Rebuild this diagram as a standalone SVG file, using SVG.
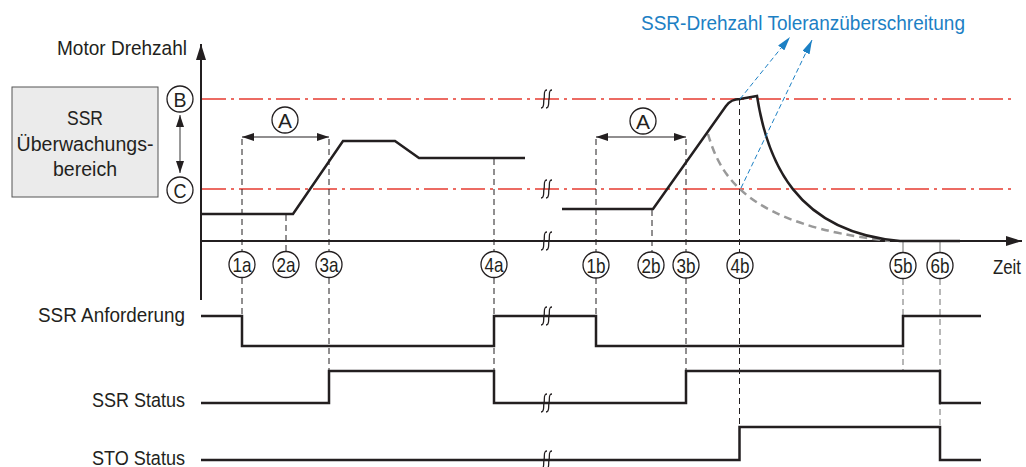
<svg xmlns="http://www.w3.org/2000/svg" width="1026" height="467" viewBox="0 0 1026 467">
<style>
text{font-family:"Liberation Sans",Arial,sans-serif;fill:#231f20}
.lbl{font-size:20.5px}
.ctr{text-anchor:middle}
.end{text-anchor:end}
.blue{fill:#1c80c4}
.cl{font-size:21px;text-anchor:middle}
.circ{fill:#fff;stroke:#231f20;stroke-width:1.3}
.sig{fill:none;stroke:#231f20;stroke-width:2.5}
.axis{fill:none;stroke:#231f20;stroke-width:2}
.red{fill:none;stroke:#e63b30;stroke-width:1.3;stroke-dasharray:24 5 3 5}
.dv{fill:none;stroke:#231f20;stroke-width:1;stroke-dasharray:6 4}
.dg{fill:none;stroke:#888;stroke-width:1.2;stroke-dasharray:6 4}
.brk{fill:none;stroke:#231f20;stroke-width:1.3}
.bl{fill:none;stroke:#1c80c4;stroke-width:1;stroke-dasharray:5 3}
</style>
<defs>
<marker id="ah" viewBox="0 0 12 8" refX="12" refY="4" markerWidth="12" markerHeight="8" markerUnits="userSpaceOnUse" orient="auto-start-reverse"><path d="M0,0 L12,4 L0,8 z" fill="#231f20"/></marker>
<marker id="bh" viewBox="0 0 14 8" refX="14" refY="4" markerWidth="14" markerHeight="8" markerUnits="userSpaceOnUse" orient="auto"><path d="M0,0 L14,4 L0,8 z" fill="#1c80c4"/></marker>
<marker id="axh" viewBox="0 0 16 10" refX="16" refY="5" markerWidth="16" markerHeight="10" markerUnits="userSpaceOnUse" orient="auto"><path d="M0,0 L16,5 L0,10 z" fill="#231f20"/></marker>
<g id="brkmark"><path d="M1,-9 C-3,-9 -1,-3 -2,0 C-3,4 -1,9 -5,9 M6,-9 C2,-9 4,-3 3,0 C2,4 4,9 0,9"/></g>
</defs>

<g id="texts">
<text class="lbl" x="57" y="55" textLength="130" lengthAdjust="spacingAndGlyphs">Motor Drehzahl</text>
<text class="lbl" x="993" y="274" textLength="28" lengthAdjust="spacingAndGlyphs">Zeit</text>
<text class="lbl end" x="185" y="322" textLength="147" lengthAdjust="spacingAndGlyphs">SSR Anforderung</text>
<text class="lbl end" x="185" y="407" textLength="93" lengthAdjust="spacingAndGlyphs">SSR Status</text>
<text class="lbl end" x="185" y="465" textLength="93" lengthAdjust="spacingAndGlyphs">STO Status</text>
<text class="lbl blue" x="641" y="30" textLength="324" lengthAdjust="spacingAndGlyphs">SSR-Drehzahl Toleranzüberschreitung</text>
</g>

<g id="ssr-box">
<rect x="12" y="87" width="146" height="110" fill="#ebebeb" stroke="#555" stroke-width="1"/>
<text class="lbl ctr" x="85" y="125" textLength="36" lengthAdjust="spacingAndGlyphs">SSR</text>
<text class="lbl ctr" x="85" y="151" textLength="137" lengthAdjust="spacingAndGlyphs">Überwachungs-</text>
<text class="lbl ctr" x="85" y="176" textLength="64" lengthAdjust="spacingAndGlyphs">bereich</text>
</g>

<g id="limits">
<path class="red" d="M202,99 H1015"/>
<path class="red" d="M202,189 H1015"/>
</g>

<g id="connectors">
<path class="axis" d="M201,300 V44" marker-end="url(#axh)"/>
<path class="axis" d="M201,241 H1022" marker-end="url(#axh)"/>
<path d="M180,115 V173" stroke="#555" stroke-width="1.2" fill="none" marker-start="url(#ah)" marker-end="url(#ah)"/>
<path d="M242,137 H329" stroke="#231f20" stroke-width="1.2" fill="none" marker-start="url(#ah)" marker-end="url(#ah)"/>
<path d="M596,137 H686" stroke="#231f20" stroke-width="1.2" fill="none" marker-start="url(#ah)" marker-end="url(#ah)"/>
<path class="dv" d="M242,139 V251 M242,278 V316"/>
<path class="dv" d="M286,215 V251"/>
<path class="dv" d="M329,139 V251 M329,278 V371"/>
<path class="dv" d="M494,159 V251 M494,278 V403"/>
<path class="dv" d="M596,139 V252 M596,278 V316"/>
<path class="dv" d="M652,210 V252"/>
<path class="dv" d="M686,139 V252 M686,278 V371"/>
<path class="dv" d="M739.5,99 V252 M739.5,278 V427"/>
<path d="M903,241 V252 M940,241 V252" stroke="#888" stroke-width="1.2"/>
<path class="dg" d="M903,279 V371"/>
<path class="dg" d="M940,279 V460"/>
<path d="M708,134 C720,175 745,225 890,241" fill="none" stroke="#999" stroke-width="2.5" stroke-dasharray="8 5"/>
<path class="sig" d="M201,214 L293,214 L343,141 L395,141 L419,158 L525,158"/>
<path class="sig" d="M562,209 L653,209 L726,106 Q731,99 740,99 L757,96 C767,160 795,232 900,241 L960,241"/>
<path class="bl" d="M740,99 L790,37" marker-end="url(#bh)"/>
<path class="bl" d="M741,188 L812,40" marker-end="url(#bh)"/>
<path class="sig" d="M201,316 H242 V346 H494 V316 H596 V346 H903 V316 H981"/>
<path class="sig" d="M201,403 H329 V371 H494 V403 H686 V371 H940 V403 H981"/>
<path class="sig" d="M201,460 H739.5 V427 H940 V460 H981"/>
<g class="brk">
<use href="#brkmark" x="546" y="99"/>
<use href="#brkmark" x="546" y="189"/>
<use href="#brkmark" x="546" y="241"/>
<use href="#brkmark" x="546" y="316"/>
<use href="#brkmark" x="546" y="403"/>
<use href="#brkmark" x="546" y="460"/>
</g>
</g>

<g id="label-B"><circle class="circ" cx="180" cy="99" r="13"/><text class="cl" x="180" y="106.5" textLength="13" lengthAdjust="spacingAndGlyphs">B</text></g>
<g id="label-C"><circle class="circ" cx="180" cy="190" r="13"/><text class="cl" x="180" y="197.5" textLength="13" lengthAdjust="spacingAndGlyphs">C</text></g>
<g id="label-A1"><circle class="circ" cx="285" cy="120" r="13"/><text class="cl" x="285" y="127.5" textLength="14" lengthAdjust="spacingAndGlyphs">A</text></g>
<g id="label-A2"><circle class="circ" cx="643" cy="121" r="13"/><text class="cl" x="643" y="128.5" textLength="14" lengthAdjust="spacingAndGlyphs">A</text></g>
<g id="label-1a"><circle class="circ" cx="242" cy="264.5" r="13"/><text class="cl" x="242" y="272" textLength="19" lengthAdjust="spacingAndGlyphs">1a</text></g>
<g id="label-2a"><circle class="circ" cx="286" cy="264.5" r="13"/><text class="cl" x="286" y="272" textLength="19" lengthAdjust="spacingAndGlyphs">2a</text></g>
<g id="label-3a"><circle class="circ" cx="329" cy="264.5" r="13"/><text class="cl" x="329" y="272" textLength="19" lengthAdjust="spacingAndGlyphs">3a</text></g>
<g id="label-4a"><circle class="circ" cx="494" cy="264.5" r="13"/><text class="cl" x="494" y="272" textLength="19" lengthAdjust="spacingAndGlyphs">4a</text></g>
<g id="label-1b"><circle class="circ" cx="596" cy="265" r="13"/><text class="cl" x="596" y="272.5" textLength="19" lengthAdjust="spacingAndGlyphs">1b</text></g>
<g id="label-2b"><circle class="circ" cx="651" cy="265" r="13"/><text class="cl" x="651" y="272.5" textLength="19" lengthAdjust="spacingAndGlyphs">2b</text></g>
<g id="label-3b"><circle class="circ" cx="686" cy="265" r="13"/><text class="cl" x="686" y="272.5" textLength="19" lengthAdjust="spacingAndGlyphs">3b</text></g>
<g id="label-4b"><circle class="circ" cx="740" cy="265.5" r="13"/><text class="cl" x="740" y="273" textLength="19" lengthAdjust="spacingAndGlyphs">4b</text></g>
<g id="label-5b"><circle class="circ" cx="903" cy="265.5" r="13"/><text class="cl" x="903" y="273" textLength="19" lengthAdjust="spacingAndGlyphs">5b</text></g>
<g id="label-6b"><circle class="circ" cx="940" cy="265.5" r="13"/><text class="cl" x="940" y="273" textLength="19" lengthAdjust="spacingAndGlyphs">6b</text></g>
</svg>
